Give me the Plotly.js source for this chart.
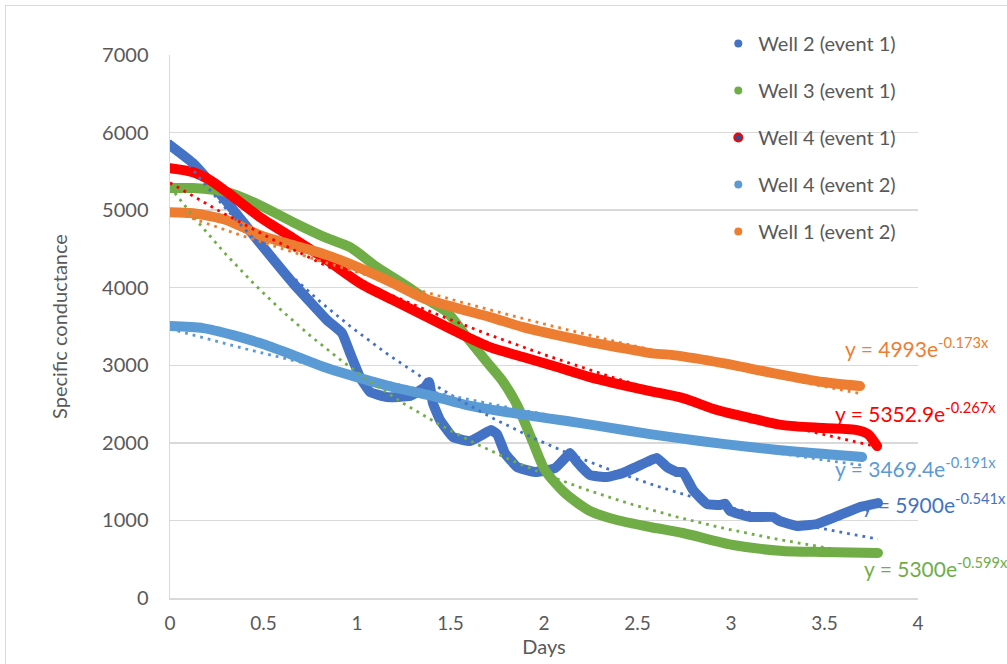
<!DOCTYPE html>
<html>
<head>
<meta charset="utf-8">
<script src="https://cdn.plot.ly/plotly-3.0.1.min.js"></script>
<style>
  html, body { margin: 0; padding: 0; background: #ffffff; overflow: hidden; }
  #chart { width: 1007px; height: 664px; }
  #frame { position: absolute; left: 5px; top: 5px; width: 1100px; height: 800px;
           border: 1.5px solid #d9d9d9; pointer-events: none; }
</style>
</head>
<body>
<div id="chart"></div>
<div id="frame"></div>
<script>
// Specific conductance readings per well, by elapsed days
const well2Days = [0, 0.123, 0.305, 0.481, 0.658, 0.840, 0.920, 0.963, 1.016, 1.070, 1.160, 1.283, 1.364, 1.385,
  1.406, 1.444, 1.513, 1.604, 1.668, 1.717, 1.749, 1.791, 1.856, 1.952, 2.059, 2.128, 2.139, 2.176, 2.246, 2.337,
  2.422, 2.551, 2.604, 2.658, 2.711, 2.743, 2.797, 2.872, 2.941, 2.968, 2.995, 3.102, 3.225, 3.262, 3.353, 3.460,
  3.583, 3.690, 3.786];
const well2Cond = [5838, 5606, 5103, 4575, 4059, 3582, 3415, 3157, 2848, 2655, 2590, 2603, 2719, 2784,
  2513, 2294, 2075, 2023, 2101, 2165, 2113, 1869, 1688, 1624, 1675, 1843, 1869, 1753, 1585, 1559,
  1611, 1753, 1804, 1688, 1624, 1624, 1392, 1211, 1198, 1215, 1121, 1044, 1044, 990, 928, 954,
  1070, 1173, 1224];

const well3Days = [0, 0.123, 0.305, 0.481, 0.658, 0.840, 0.963, 1.107, 1.283, 1.353, 1.481, 1.578, 1.695, 1.775,
  1.856, 1.936, 2.005, 2.112, 2.246, 2.390, 2.567, 2.743, 3.011, 3.278, 3.492, 3.786];
const well3Cond = [5284, 5284, 5232, 5064, 4845, 4639, 4523, 4265, 3995, 3879, 3686, 3389, 3041, 2809,
  2487, 2036, 1649, 1353, 1121, 1005, 915, 838, 683, 606, 593, 580];

const well4e1Days = [0, 0.123, 0.214, 0.305, 0.481, 0.658, 0.840, 1.016, 1.193, 1.353, 1.535, 1.711, 1.888, 2.070,
  2.246, 2.422, 2.567, 2.743, 2.925, 3.102, 3.278, 3.492, 3.674, 3.733, 3.759, 3.781];
const well4e1Cond = [5541, 5490, 5387, 5232, 4910, 4639, 4356, 4059, 3840, 3647, 3428, 3235, 3106, 2977,
  2848, 2745, 2668, 2577, 2423, 2320, 2229, 2191, 2165, 2113, 2036, 1959];

const well4e2Days = [0, 0.176, 0.337, 0.481, 0.658, 0.840, 1.016, 1.193, 1.406, 1.588, 1.765, 1.941, 2.123, 2.299,
  2.567, 2.834, 3.102, 3.369, 3.701];
const well4e2Cond = [3505, 3479, 3389, 3286, 3131, 2964, 2835, 2719, 2603, 2487, 2410, 2345, 2281, 2216,
  2113, 2023, 1946, 1881, 1817];

const well1e2Days = [0, 0.123, 0.305, 0.481, 0.658, 0.840, 1.016, 1.193, 1.353, 1.535, 1.711, 1.888, 2.070, 2.246,
  2.422, 2.567, 2.690, 2.957, 3.225, 3.492, 3.690];
const well1e2Cond = [4974, 4961, 4871, 4678, 4549, 4420, 4253, 4059, 3866, 3737, 3621, 3492, 3389, 3299,
  3222, 3157, 3131, 3028, 2899, 2784, 2732];

const seriesNames = ['Well 2 (event 1)', 'Well 3 (event 1)', 'Well 4 (event 1)', 'Well 4 (event 2)', 'Well 1 (event 2)'];
const seriesColors = ['#4472C4', '#70AD47', '#FF0000', '#5B9BD5', '#ED7D31'];

// Exponential fit y = a * e^(b x) for each series
const trendA = [5900, 5300, 5352.9, 3469.4, 4993];
const trendB = [-0.541, -0.599, -0.267, -0.191, -0.173];

const xTickVals = [0, 0.5, 1, 1.5, 2, 2.5, 3, 3.5, 4];
const xTickText = ['0', '0.5', '1', '1.5', '2', '2.5', '3', '3.5', '4'];
const yTickVals = [0, 1000, 2000, 3000, 4000, 5000, 6000, 7000];
const yTickText = ['0', '1000', '2000', '3000', '4000', '5000', '6000', '7000'];

const allDays = [well2Days, well3Days, well4e1Days, well4e2Days, well1e2Days];
const allCond = [well2Cond, well3Cond, well4e1Cond, well4e2Cond, well1e2Cond];

const FONT = 'Lato, "Open Sans", sans-serif';
const GREY = '#595959';

const traces = [];

// measured series, drawn as thick continuous bands
allDays.forEach((xs, i) => {
  traces.push({
    type: 'scatter', mode: 'lines', x: xs, y: allCond[i],
    line: { color: seriesColors[i], width: 10, shape: 'spline', smoothing: i === 0 ? 0.35 : 0.7 },
    showlegend: false, hoverinfo: 'skip'
  });
});

// fitted exponential trendlines (dotted)
allDays.forEach((xs, i) => {
  const xEnd = xs[xs.length - 1];
  const tx = [], ty = [];
  for (let k = 0; k <= 200; k++) {
    const x = xEnd * k / 200;
    tx.push(x);
    ty.push(trendA[i] * Math.exp(trendB[i] * x));
  }
  traces.push({
    type: 'scatter', mode: 'lines', x: tx, y: ty,
    line: { color: seriesColors[i], width: 2.8, dash: '2.8px,5px' },
    showlegend: false, hoverinfo: 'skip'
  });
});

// legend entries (marker only)
seriesNames.forEach((name, i) => {
  const mk = { color: seriesColors[i], size: 8 };
  if (i === 2) { mk.color = '#3b4a86'; mk.line = { color: seriesColors[i], width: 2 }; }
  traces.push({
    type: 'scatter', mode: 'markers', x: [null], y: [null], name: name,
    legendgroup: 'g' + i, marker: mk, hoverinfo: 'skip'
  });
});

// equation labels, placed to the right of each series' end
const labelPos = [
  { x: 3.69, y: 1224 },
  { x: 3.70, y: 400 },
  { x: 3.545, y: 2397 },
  { x: 3.545, y: 1688 },
  { x: 3.60, y: 3235 }
];
const annotations = seriesNames.map((n, i) => ({
  xref: 'x', yref: 'y', x: labelPos[i].x, y: labelPos[i].y,
  xanchor: 'left', yanchor: 'middle', showarrow: false,
  text: 'y = ' + trendA[i] + 'e<sup>' + trendB[i] + 'x</sup>',
  font: { family: FONT, size: 21, color: seriesColors[i] }
}));

const layout = {
  width: 1007, height: 664,
  margin: { l: 170, r: 89, t: 55, b: 66 },
  paper_bgcolor: '#ffffff', plot_bgcolor: '#ffffff',
  font: { family: FONT, color: GREY },
  showlegend: true,
  legend: {
    x: 0.733, y: 1.057, xanchor: 'left', yanchor: 'top',
    bgcolor: 'rgba(0,0,0,0)', traceorder: 'grouped', tracegroupgap: 18,
    font: { family: FONT, size: 20, color: GREY }
  },
  xaxis: {
    range: [0, 4], tickmode: 'array', tickvals: xTickVals, ticktext: xTickText,
    showgrid: false, zeroline: false, showline: true, linecolor: '#d9d9d9', linewidth: 1.5,
    ticks: '', tickfont: { family: FONT, size: 19, color: GREY }, ticklabelstandoff: 8,
    title: { text: 'Days', font: { family: FONT, size: 20, color: GREY }, standoff: 2 },
    fixedrange: true
  },
  yaxis: {
    range: [0, 7000], tickmode: 'array', tickvals: yTickVals, ticktext: yTickText,
    showgrid: true, gridcolor: '#d9d9d9', gridwidth: 1.5, zeroline: false,
    showline: true, linecolor: '#d9d9d9', linewidth: 1.5,
    ticks: '', tickfont: { family: FONT, size: 20, color: GREY }, ticklabelstandoff: 16,
    title: { text: 'Specific conductance', font: { family: FONT, size: 20, color: GREY }, standoff: 29 },
    fixedrange: true
  },
  annotations: annotations
};

Plotly.newPlot('chart', traces, layout, { displayModeBar: false, staticPlot: true }).then(() => {
  // rounded ends on the thick series bands only (first five traces)
  const groups = document.querySelectorAll('#chart .scatterlayer .trace');
  groups.forEach((g, idx) => {
    if (idx < allDays.length) {
      g.querySelectorAll('.js-line').forEach(p => {
        p.style.strokeLinecap = 'round';
        p.style.strokeLinejoin = 'round';
      });
    }
  });
});
</script>
</body>
</html>
